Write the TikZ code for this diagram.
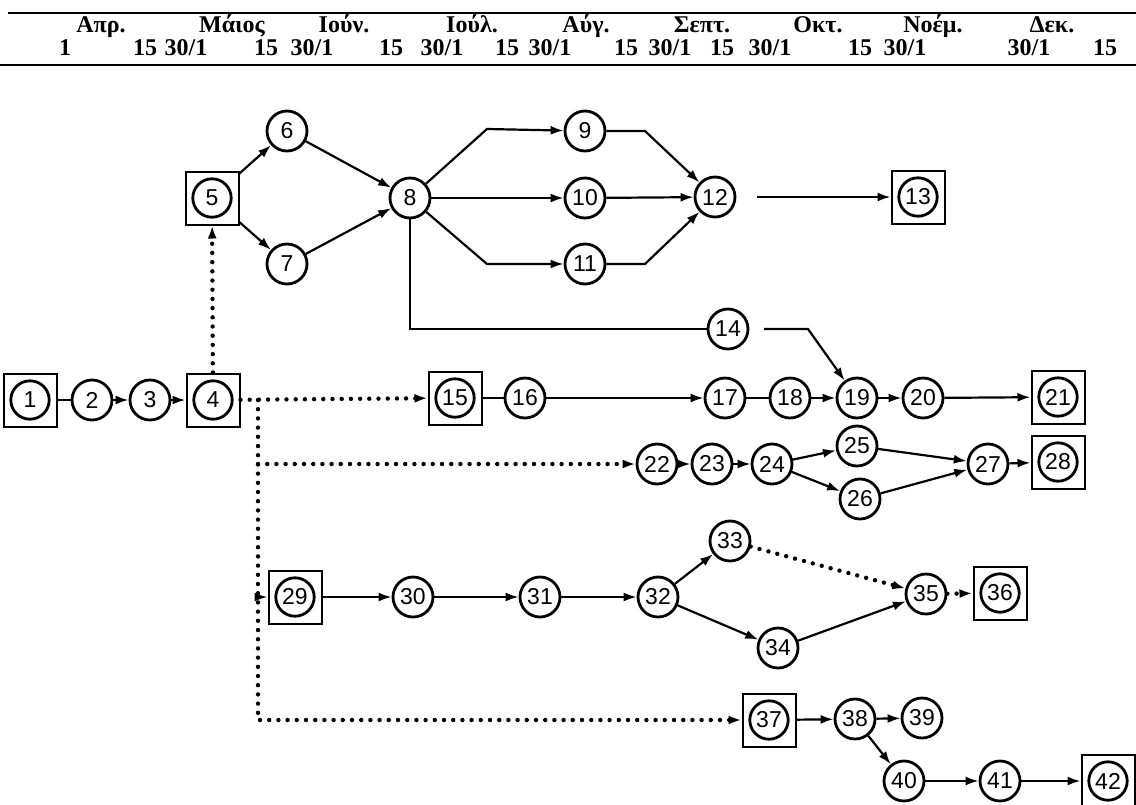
\documentclass[tikz,border=0pt]{standalone}
\usepackage{fontspec}
\setmainfont{Liberation Sans}
\newfontfamily\grfont{Liberation Serif}
\usetikzlibrary{arrows.meta}

\begin{document}
\begin{tikzpicture}[
  x=0.5pt, y=-0.5pt,
  font=\fontsize{11.5}{13}\selectfont,
  ev/.style={circle, draw, line width=1.4pt, minimum size=20pt, inner sep=0pt},
  evbox/.style={rectangle, draw, line width=1pt, minimum size=26.5pt, inner sep=0pt,
    path picture={\draw[line width=1.4pt] (path picture bounding box.center) circle (9.6pt);}},
  hd/.style={font=\grfont\bfseries\fontsize{12}{14}\selectfont, inner sep=0pt, anchor=base},
  arr/.style={-{Latex[length=6.5pt,width=4.5pt]}, line width=1.1pt},
  link/.style={line width=1.1pt},
  dots/.style={line width=2.2pt, line cap=round, dash pattern=on 0pt off 4.6pt}
]
\useasboundingbox (0,0) rectangle (1136,804);
\draw[line width=1.4pt] (8,13) -- (1136,13);
\draw[line width=1.2pt] (0,65) -- (1136,65);
\node[hd] (apr) at (101,32) {Απρ.};
\node[hd] (mai) at (232,32) {Μάιος};
\node[hd] (ioun) at (344,32) {Ιούν.};
\node[hd] (ioul) at (472,32) {Ιούλ.};
\node[hd] (avg) at (586,32) {Αύγ.};
\node[hd] (sep) at (702,32) {Σεπτ.};
\node[hd] (okt) at (818,32) {Οκτ.};
\node[hd] (noe) at (933,32) {Νοέμ.};
\node[hd] (dek) at (1052,32) {Δεκ.};
\node[hd] (t1) at (65,55) {1};
\node[hd] (t2) at (145,55) {15};
\node[hd] (t3) at (186,55) {30/1};
\node[hd] (t4) at (266,55) {15};
\node[hd] (t5) at (312,55) {30/1};
\node[hd] (t6) at (391,55) {15};
\node[hd] (t7) at (442,55) {30/1};
\node[hd] (t8) at (507,55) {15};
\node[hd] (t9) at (550,55) {30/1};
\node[hd] (t10) at (626,55) {15};
\node[hd] (t11) at (670,55) {30/1};
\node[hd] (t12) at (722,55) {15};
\node[hd] (t13) at (770,55) {30/1};
\node[hd] (t14) at (860,55) {15};
\node[hd] (t15) at (905,55) {30/1};
\node[hd] (t16) at (1029,55) {30/1};
\node[hd] (t17) at (1105,55) {15};

\node[evbox] (n1) at (30,400) {1};
\node[ev] (n2) at (92,400) {2};
\node[ev] (n3) at (150,400) {3};
\node[evbox] (n4) at (213,400) {4};
\node[evbox] (n5) at (212,198) {5};
\node[ev] (n6) at (287,131) {6};
\node[ev] (n7) at (287,264) {7};
\node[ev] (n8) at (410,198) {8};
\node[ev] (n9) at (585,131) {9};
\node[ev] (n10) at (585,198) {10};
\node[ev] (n11) at (585,264) {11};
\node[ev] (n12) at (715,197) {12};
\node[evbox] (n13) at (918,197) {13};
\node[ev] (n14) at (728,329) {14};
\node[evbox] (n15) at (455,398) {15};
\node[ev] (n16) at (525,398) {16};
\node[ev] (n17) at (725,398) {17};
\node[ev] (n18) at (790,398) {18};
\node[ev] (n19) at (857,398) {19};
\node[ev] (n20) at (923,398) {20};
\node[evbox] (n21) at (1058,397) {21};
\node[ev] (n22) at (657,464) {22};
\node[ev] (n23) at (712,464) {23};
\node[ev] (n24) at (772,464) {24};
\node[ev] (n25) at (857,446) {25};
\node[ev] (n26) at (860,499) {26};
\node[ev] (n27) at (988,464) {27};
\node[evbox] (n28) at (1058,462) {28};
\node[evbox] (n29) at (295,597) {29};
\node[ev] (n30) at (413,597) {30};
\node[ev] (n31) at (540,597) {31};
\node[ev] (n32) at (658,597) {32};
\node[ev] (n33) at (730,541) {33};
\node[ev] (n34) at (778,648) {34};
\node[ev] (n35) at (926,594) {35};
\node[evbox] (n36) at (1000,593) {36};
\node[evbox] (n37) at (769,720) {37};
\node[ev] (n38) at (855,719) {38};
\node[ev] (n39) at (922,718) {39};
\node[ev] (n40) at (904,781) {40};
\node[ev] (n41) at (1000,781) {41};
\node[evbox] (n42) at (1108,781) {42};

\coordinate (b9) at (487,129);
\coordinate (b11) at (487,264);
\coordinate (c9) at (645,131);
\coordinate (c11) at (645,264);
\coordinate (g12) at (757,197);
\coordinate (g14) at (764,329);
\coordinate (k14) at (808,329);
\coordinate (d0) at (258,400);
\coordinate (d22) at (258,464);
\coordinate (d29) at (258,597);
\coordinate (d37) at (258,720);

\draw[link] (n1) -- (n2);
\draw[arr] (n2) -- (n3);
\draw[arr] (n3) -- (n4);
\draw[arr] (n5) -- (n6);
\draw[arr] (n5) -- (n7);
\draw[arr] (n6) -- (n8);
\draw[arr] (n7) -- (n8);
\draw[arr] (n8) -- (b9) -- (n9);
\draw[arr] (n8) -- (n10);
\draw[arr] (n8) -- (b11) -- (n11);
\draw[arr] (n9) -- (c9) -- (n12);
\draw[arr] (n10) -- (n12);
\draw[arr] (n11) -- (c11) -- (n12);
\draw[arr] (g12) -- (n13);
\draw[link] (n8) |- (n14);
\draw[arr] (g14) -- (k14) -- (n19);
\draw[link] (n15) -- (n16);
\draw[arr] (n16) -- (n17);
\draw[link] (n17) -- (n18);
\draw[arr] (n18) -- (n19);
\draw[arr] (n19) -- (n20);
\draw[arr] (n20) -- (n21);
\draw[arr] (n22) -- (n23);
\draw[arr] (n23) -- (n24);
\draw[arr] (n24) -- (n25);
\draw[arr] (n24) -- (n26);
\draw[arr] (n25) -- (n27);
\draw[arr] (n26) -- (n27);
\draw[arr] (n27) -- (n28);
\draw[arr] (n29) -- (n30);
\draw[arr] (n30) -- (n31);
\draw[arr] (n31) -- (n32);
\draw[arr] (n32) -- (n33);
\draw[arr] (n32) -- (n34);
\draw[arr] (n34) -- (n35);
\draw[arr, dots] (n33) -- (n35);
\draw[arr, dots] (n35) -- (n36);
\draw[arr] (n37) -- (n38);
\draw[arr] (n38) -- (n39);
\draw[arr] (n38) -- (n40);
\draw[arr] (n40) -- (n41);
\draw[arr] (n41) -- (n42);

\draw[arr, dots] (n4) -- (n5);
\draw[arr, dots] (n4) -- (n15);
\draw[arr, dots] (d0) -- (d37) -- (n37);
\draw[arr, dots] (d22) -- (n22);
\draw[arr] (d29) -- (n29);
\end{tikzpicture}
\end{document}
